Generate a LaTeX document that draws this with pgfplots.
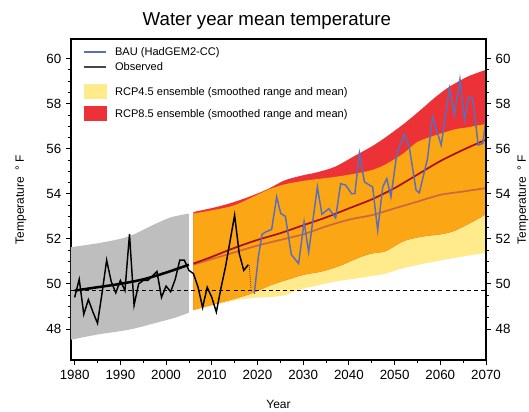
\documentclass[border=0pt]{standalone}
\usepackage{pgfplots}
\pgfplotsset{compat=1.18}
\usepgfplotslibrary{fillbetween}
\usepackage{pgfplotstable}
\usepackage{fontspec}
\setmainfont{Liberation Sans}

\definecolor{grayband}{RGB}{190,190,190}
\definecolor{yellow45}{RGB}{255,234,140}
\definecolor{red85}{RGB}{236,50,55}
\definecolor{orange45}{RGB}{251,166,20}
\definecolor{mean85}{RGB}{170,15,20}
\definecolor{mean45}{RGB}{205,105,60}
\definecolor{bau}{RGB}{90,110,185}
\definecolor{obsgray}{RGB}{70,70,70}

\pgfplotsset{
  legline/.style={legend image code/.code={\draw[##1] (0pt,0pt) -- (16.5pt,0pt);}},
  legarea/.style={legend image code/.code={\path[draw=none,fill=none] (0pt,-8.25pt) rectangle (1pt,8.25pt);\fill[##1,draw=none] (0pt,-5.6pt) rectangle (17pt,5.6pt);}},
  legareatop/.style={legend image code/.code={\path[draw=none,fill=none] (0pt,-8.25pt) rectangle (1pt,13.1pt);\fill[##1,draw=none] (0pt,-5.6pt) rectangle (17pt,5.6pt);}},
}

% observed annual mean
\pgfplotstableread{
x y
1980 49.40
1981 50.20
1982 48.65
1983 49.30
1984 48.75
1985 48.25
1986 49.60
1987 51.05
1988 50.10
1989 49.60
1990 50.15
1991 49.70
1992 52.20
1993 49.05
1994 50.00
1995 50.15
1996 50.15
1997 50.35
1998 50.55
1999 49.40
2000 49.90
2001 49.65
2002 50.20
2003 51.05
2004 51.05
2005 50.60
2006 50.45
2007 49.85
2008 48.95
2009 49.85
2010 49.40
2011 48.75
2012 49.80
2013 50.75
2014 51.90
2015 53.05
2016 51.35
2017 50.60
2018 50.85
}\obs

\pgfplotstableread{
x y
1980 49.70
1985 49.85
1990 50.00
1995 50.20
2000 50.50
2005 50.85
}\trend

% observed range (gray)
\pgfplotstableread{
x y
1979.2 51.63
1985 51.80
1990 52.00
1993 52.20
1997 52.60
2001 52.95
2005 53.12
}\grayup
\pgfplotstableread{
x y
1979.2 47.52
1985 47.75
1992 47.97
1998 48.28
2002 48.50
2005 48.72
}\graylo

% RCP4.5 range
\pgfplotstableread{
x y
2006 53.12
2011 53.30
2015 53.49
2019 53.86
2022.5 54.19
2026 54.42
2030 54.57
2033 54.65
2037 54.75
2041 54.88
2045 55.05
2048 55.30
2052 55.80
2055 56.30
2059 56.60
2063 56.85
2066 56.95
2070 57.10
}\rfup
\pgfplotstableread{
x y
2006 48.82
2011 49.08
2016 49.30
2019 49.37
2023 49.42
2026 49.50
2030 49.78
2037 50.10
2041 50.22
2045 50.35
2048 50.45
2052 50.70
2059 51.00
2066 51.25
2070 51.37
}\rflo

% RCP8.5 range
\pgfplotstableread{
x y
2006 53.19
2011 53.41
2015 53.64
2019 53.93
2022.5 54.23
2026 54.60
2030 54.82
2033 54.95
2037 55.20
2041 55.65
2045 56.10
2048 56.50
2052 57.10
2055 57.60
2059 58.30
2062 58.75
2066 59.20
2070 59.50
}\reup
\pgfplotstableread{
x y
2006 48.85
2011 49.12
2016 49.40
2019 49.60
2023 49.95
2026 50.15
2030 50.40
2034 50.55
2038 50.80
2042 51.15
2045 51.35
2048 51.45
2052 51.90
2056 52.10
2060 52.20
2063 52.35
2067 52.75
2070 53.10
}\relo

% ensemble means
\pgfplotstableread{
x y
2006 50.90
2010 51.20
2015 51.60
2020 51.95
2025 52.25
2030 52.60
2035 52.95
2040 53.35
2045 53.75
2050 54.25
2055 54.85
2060 55.45
2065 55.95
2070 56.40
}\meanE
\pgfplotstableread{
x y
2006 50.85
2010 51.10
2015 51.40
2020 51.70
2025 51.95
2030 52.20
2035 52.55
2040 52.85
2045 53.05
2050 53.35
2055 53.65
2060 53.95
2065 54.10
2070 54.25
}\meanF

% BAU (HadGEM2-CC)
\pgfplotstableread{
x y
2019.3 49.56
2020.2 51.20
2021.0 52.20
2021.8 52.30
2023.1 52.42
2024.2 53.86
2025.1 53.12
2026.1 53.00
2027.4 51.30
2029.0 50.90
2030.2 52.75
2031.2 51.41
2033.1 54.30
2034.1 53.09
2035.6 53.34
2037.1 52.93
2038.2 54.45
2039.3 54.38
2040.6 54.00
2041.3 54.00
2042.3 55.79
2043.4 54.52
2045.2 54.30
2046.3 52.38
2047.4 54.30
2048.3 54.67
2049.2 53.86
2050.5 55.79
2052.1 56.64
2053.2 56.08
2054.7 54.16
2055.4 54.04
2057.2 55.56
2058.3 57.41
2060.2 56.16
2062.0 58.68
2063.1 57.49
2064.3 59.08
2065.3 57.27
2066.2 58.30
2067.1 58.23
2068.3 56.16
2069.3 56.23
2070.0 57.34
}\bauT

\begin{document}
\begin{tikzpicture}
\begin{axis}[
  name=main,
  scale only axis, width=311.25pt, height=240.75pt,
  xmin=1979.2, xmax=2070, ymin=46.62, ymax=60.87,
  xtick={1980,1990,...,2070}, minor x tick num=1,
  ytick={48,50,...,60}, minor y tick num=3,
  xtick pos=left, ytick pos=left,
  tick align=outside,
  major tick length=3.75pt, minor tick length=2.2pt,
  every tick/.style={black, line width=0.6pt},
  axis line style={line width=0.8pt},
  /pgf/number format/assume math mode=true,
  /pgf/number format/1000 sep={},
  ticklabel style={font=\fontsize{10}{12}\selectfont},
  xlabel={Year}, ylabel={Temperature~ ° F},
  label style={font=\fontsize{9}{11}\selectfont},
  xlabel style={at={(axis description cs:0.5,-0.137)}, anchor=center},
  ylabel style={at={(axis description cs:-0.1205,0.5)}, anchor=center},
  title={Water year mean temperature},
  title style={at={(axis description cs:0.472,1.031)}, anchor=center, font=\fontsize{14}{16}\selectfont},
  legend cell align=left,
  legend style={at={(axis description cs:0.029,0.983)}, anchor=north west, draw=none, fill=none,
    inner sep=0pt, outer sep=0pt,
    font=\fontsize{8.3}{9.5}\selectfont, row sep=0pt,
    nodes={inner ysep=0pt, text height=8.4pt, text depth=2.85pt},
    /tikz/every odd column/.append style={column sep=4pt}},
]
\addlegendimage{legline, color=bau, line width=0.9pt}
\addlegendentry{BAU (HadGEM2-CC)}
\addlegendimage{legline, color=obsgray, line width=1.5pt}
\addlegendentry{Observed}
\addlegendimage{legareatop, fill=yellow45}
\addlegendentry{RCP4.5 ensemble (smoothed range and mean)}
\addlegendimage{legarea, fill=red85}
\addlegendentry{RCP8.5 ensemble (smoothed range and mean)}

% bands
\addplot[name path=gu, draw=none, smooth, forget plot] table {\grayup};
\addplot[name path=gl, draw=none, smooth, forget plot] table {\graylo};
\addplot[grayband, forget plot] fill between[of=gu and gl];

\addplot[name path=fu, draw=none, smooth, forget plot] table {\rfup};
\addplot[name path=fl, draw=none, smooth, forget plot] table {\rflo};
\addplot[name path=eu, draw=none, smooth, forget plot] table {\reup};
\addplot[name path=el, draw=none, smooth, forget plot] table {\relo};
\addplot[yellow45, forget plot] fill between[of=fu and fl];
\addplot[red85, forget plot] fill between[of=eu and el];
\addplot[orange45, forget plot] fill between[of=fu and el];

% baseline
\addplot[black, line width=0.8pt, dash pattern=on 3pt off 2.3pt, forget plot] coordinates {(1979.2,49.71) (2070,49.71)};

% means
\addplot[mean45, line width=1.3pt, smooth, forget plot] table {\meanF};
\addplot[mean85, line width=1.3pt, smooth, forget plot] table {\meanE};

% observed
\addplot[black, line width=1.1pt, forget plot] table {\obs};
\addplot[black, line width=1.9pt, smooth, forget plot] table {\trend};
\addplot[black, line width=0.5pt, densely dotted, forget plot] coordinates {(2018.2,50.82) (2018.6,49.75)};

% BAU
\addplot[bau, line width=1.1pt, forget plot] table {\bauT};
\end{axis}

\begin{axis}[
  at={(main.south west)}, anchor=south west,
  scale only axis, width=311.25pt, height=240.75pt,
  xmin=1979.2, xmax=2070, ymin=46.62, ymax=60.87,
  axis x line=none, axis y line*=right,
  ytick={48,50,...,60}, minor y tick num=3,
  tick align=outside,
  major tick length=3.75pt, minor tick length=2.2pt,
  every tick/.style={black, line width=0.6pt},
  axis line style={line width=0.8pt},
  /pgf/number format/assume math mode=true,
  ticklabel style={font=\fontsize{10}{12}\selectfont},
  ylabel={Temperature~ ° F},
  label style={font=\fontsize{9}{11}\selectfont},
  ylabel style={at={(axis description cs:1.089,0.5)}, anchor=center},
]
\end{axis}
\pgfresetboundingbox
\path[use as bounding box] ([shift={(-53.25pt,-39pt)}]main.south west) rectangle ([shift={(32.25pt,29.25pt)}]main.north east);
\end{tikzpicture}
\end{document}
